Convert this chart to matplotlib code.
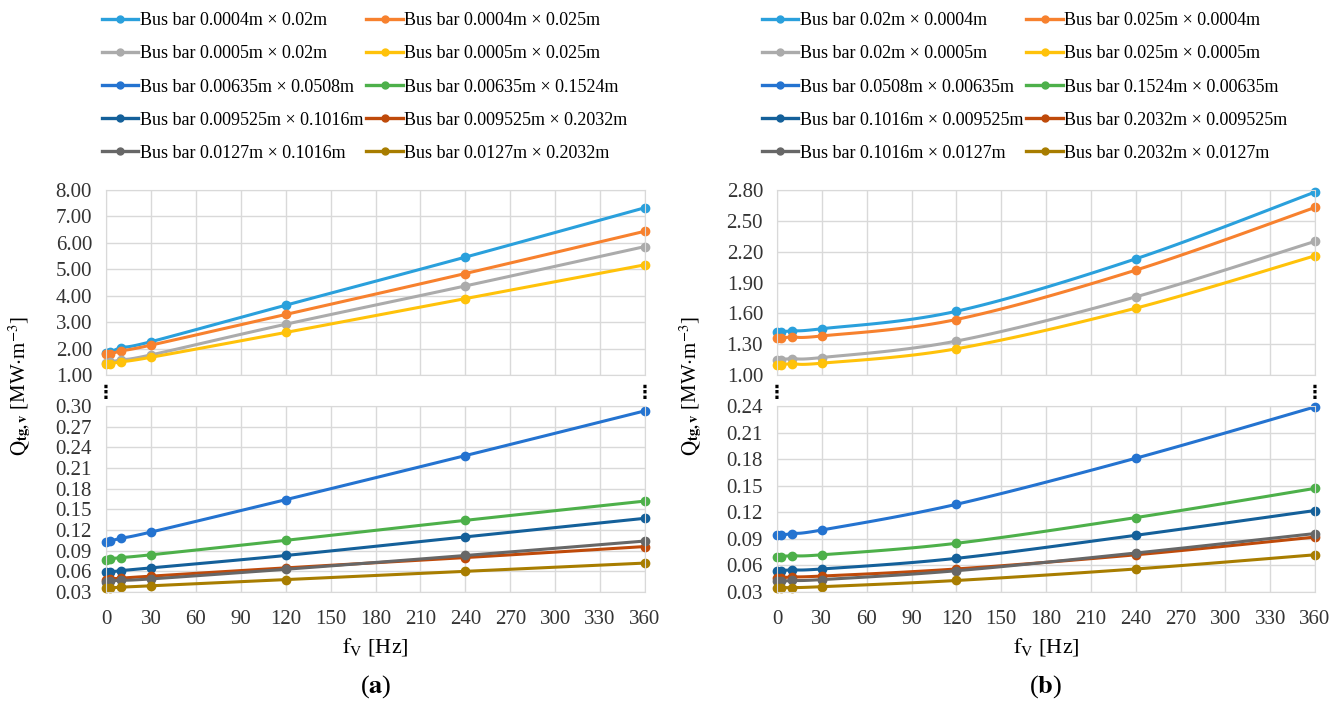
import numpy as np
import matplotlib
matplotlib.use("Agg")
import matplotlib.pyplot as plt
from matplotlib.ticker import FormatStrFormatter, MultipleLocator
from matplotlib.lines import Line2D

plt.rcParams['font.family'] = ['Liberation Serif', 'DejaVu Serif']
plt.rcParams['mathtext.fontset'] = 'stix'
plt.rcParams['font.size'] = 15

# frequency points [Hz]
freq = [0, 3, 10, 30, 120, 240, 360]

colors = ['#2AA0DC', '#F7812E', '#ABABAB', '#FFC20A', '#2473D0',
          '#4DB04A', '#14609A', '#BF4A0A', '#676767', '#A87D00']

# ---- panel (a) ----
labels_a = ['Bus bar 0.0004m × 0.02m', 'Bus bar 0.0004m × 0.025m',
            'Bus bar 0.0005m × 0.02m', 'Bus bar 0.0005m × 0.025m',
            'Bus bar 0.00635m × 0.0508m', 'Bus bar 0.00635m × 0.1524m',
            'Bus bar 0.009525m × 0.1016m', 'Bus bar 0.009525m × 0.2032m',
            'Bus bar 0.0127m × 0.1016m', 'Bus bar 0.0127m × 0.2032m']
a1 = [1.84, 1.86, 2.03, 2.26, 3.64, 5.46, 7.33]
a2 = [1.78, 1.79, 1.91, 2.13, 3.29, 4.84, 6.44]
a3 = [1.47, 1.49, 1.57, 1.76, 2.92, 4.37, 5.86]
a4 = [1.40, 1.42, 1.50, 1.67, 2.61, 3.89, 5.17]
a5 = [0.103, 0.104, 0.108, 0.117, 0.164, 0.228, 0.293]
a6 = [0.077, 0.078, 0.080, 0.084, 0.105, 0.134, 0.162]
a7 = [0.059, 0.059, 0.061, 0.065, 0.083, 0.110, 0.137]
a8 = [0.048, 0.049, 0.050, 0.053, 0.065, 0.080, 0.096]
a9 = [0.045, 0.046, 0.047, 0.049, 0.063, 0.083, 0.104]
a10 = [0.036, 0.036, 0.037, 0.039, 0.048, 0.060, 0.072]

# ---- panel (b) ----
labels_b = ['Bus bar 0.02m × 0.0004m', 'Bus bar 0.025m × 0.0004m',
            'Bus bar 0.02m × 0.0005m', 'Bus bar 0.025m × 0.0005m',
            'Bus bar 0.0508m × 0.00635m', 'Bus bar 0.1524m × 0.00635m',
            'Bus bar 0.1016m × 0.009525m', 'Bus bar 0.2032m × 0.009525m',
            'Bus bar 0.1016m × 0.0127m', 'Bus bar 0.2032m × 0.0127m']
b1 = [1.42, 1.42, 1.43, 1.45, 1.62, 2.13, 2.78]
b2 = [1.36, 1.36, 1.37, 1.38, 1.54, 2.02, 2.63]
b3 = [1.15, 1.15, 1.16, 1.17, 1.33, 1.76, 2.30]
b4 = [1.10, 1.10, 1.11, 1.115, 1.255, 1.65, 2.16]
b5 = [0.094, 0.094, 0.096, 0.100, 0.129, 0.181, 0.239]
b6 = [0.070, 0.070, 0.071, 0.072, 0.085, 0.114, 0.147]
b7 = [0.054, 0.054, 0.055, 0.056, 0.068, 0.094, 0.122]
b8 = [0.046, 0.046, 0.047, 0.048, 0.056, 0.072, 0.092]
b9 = [0.042, 0.042, 0.043, 0.044, 0.054, 0.074, 0.096]
b10 = [0.035, 0.035, 0.035, 0.036, 0.043, 0.056, 0.072]

W, H = 1341, 702


def smooth(x, y, xr, yr, n=20):
    # Excel-like smoothed line (cubic bezier through points, normalised space)
    x = np.asarray(x, float) / xr
    y = np.asarray(y, float) / yr
    P = np.column_stack([x, y])
    out = [P[0]]
    t = np.linspace(0, 1, n)[1:, None]
    for i in range(len(P) - 1):
        p0 = P[i - 1] if i > 0 else P[i]
        p3 = P[i + 2] if i + 2 < len(P) else P[i + 1]
        c1 = P[i] + (P[i + 1] - p0) / 6
        c2 = P[i + 1] - (p3 - P[i]) / 6
        seg = ((1 - t) ** 3 * P[i] + 3 * (1 - t) ** 2 * t * c1
               + 3 * (1 - t) * t ** 2 * c2 + t ** 3 * P[i + 1])
        out.extend(seg)
    out = np.array(out)
    return out[:, 0] * xr, out[:, 1] * yr


def style(ax, lo, hi, step, xlabels):
    ax.set_xlim(0, 360)
    ax.xaxis.set_major_locator(MultipleLocator(30))
    ax.set_yticks(np.arange(lo, hi + step / 2, step))
    ax.set_ylim(lo, hi)
    ax.yaxis.set_major_formatter(FormatStrFormatter('%.2f'))
    ax.grid(True, color='#d9d9d9', linewidth=1)
    ax.set_axisbelow(True)
    for s in ax.spines.values():
        s.set_color('#d9d9d9')
    ax.tick_params(length=0, labelsize=15, colors='#333333')
    ax.tick_params(axis='y', pad=10)
    ax.tick_params(axis='x', pad=13)
    if not xlabels:
        ax.tick_params(labelbottom=False)


def panel(x0, x1, top_series, bot_series, labels, top_lim, bot_lim, tag, legx):
    left = x0 / W
    width = (x1 - x0) / W
    ax_t = fig.add_axes([left, 1 - 375 / H, width, 185 / H])
    ax_b = fig.add_axes([left, 1 - 592 / H, width, 186 / H])
    style(ax_t, *top_lim, False)
    style(ax_b, *bot_lim, True)
    handles = []
    k = 0
    for ax, group, lim in [(ax_t, top_series, top_lim), (ax_b, bot_series, bot_lim)]:
        for ys in group:
            c = colors[k]
            sx, sy = smooth(freq, ys, 360.0, lim[1] - lim[0])
            ax.plot(sx, sy, color=c, lw=2.2, solid_capstyle='round', clip_on=False)
            ax.plot(freq, ys, 'o', color=c, ms=6, clip_on=False)
            handles.append(Line2D([], [], color=c, lw=2.4, marker='o', ms=5))
            k += 1
    ax_b.set_xlabel(r'$\mathrm{f}_{\mathrm{V}}$ [Hz]', fontsize=16, labelpad=5)
    ylab = r'$\mathrm{Q}_{\mathbf{tg,v}}$ [MW$\cdot$m$^{-3}$]'
    fig.text(left - 86 / W, 1 - 386 / H, ylab, rotation=90, ha='center',
             va='center', fontsize=15)
    # break marks
    for xv in [0, 360]:
        ax_b.text(xv, 1.07, '⋮', transform=ax_b.get_xaxis_transform(),
                  ha='center', va='center', fontsize=13, family='DejaVu Sans',
                  fontweight='bold')
    fig.text((x0 + x1) / 2 / W, 1 - 687 / H, '(' + r'$\mathbf{' + tag + '}$' + ')',
             ha='center', va='center', fontsize=19)
    # legend row-wise order
    order = [0, 2, 4, 6, 8, 1, 3, 5, 7, 9]
    fig.legend([handles[i] for i in order], [labels[i] for i in order],
               loc='center', bbox_to_anchor=(legx / W, 1 - 87 / H), ncol=2,
               frameon=False, handlelength=2.0, handletextpad=0.1,
               columnspacing=0.15, labelspacing=0.89, fontsize=13)


fig = plt.figure(figsize=(W / 100, H / 100), dpi=100)

panel(106, 645, [a1, a2, a3, a4], [a5, a6, a7, a8, a9, a10], labels_a,
      (1.0, 8.0, 1.0), (0.03, 0.30, 0.03), 'a', 365)
panel(777, 1315, [b1, b2, b3, b4], [b5, b6, b7, b8, b9, b10], labels_b,
      (1.0, 2.8, 0.3), (0.03, 0.24, 0.03), 'b', 1025)

fig.savefig('out.png', dpi=100)
